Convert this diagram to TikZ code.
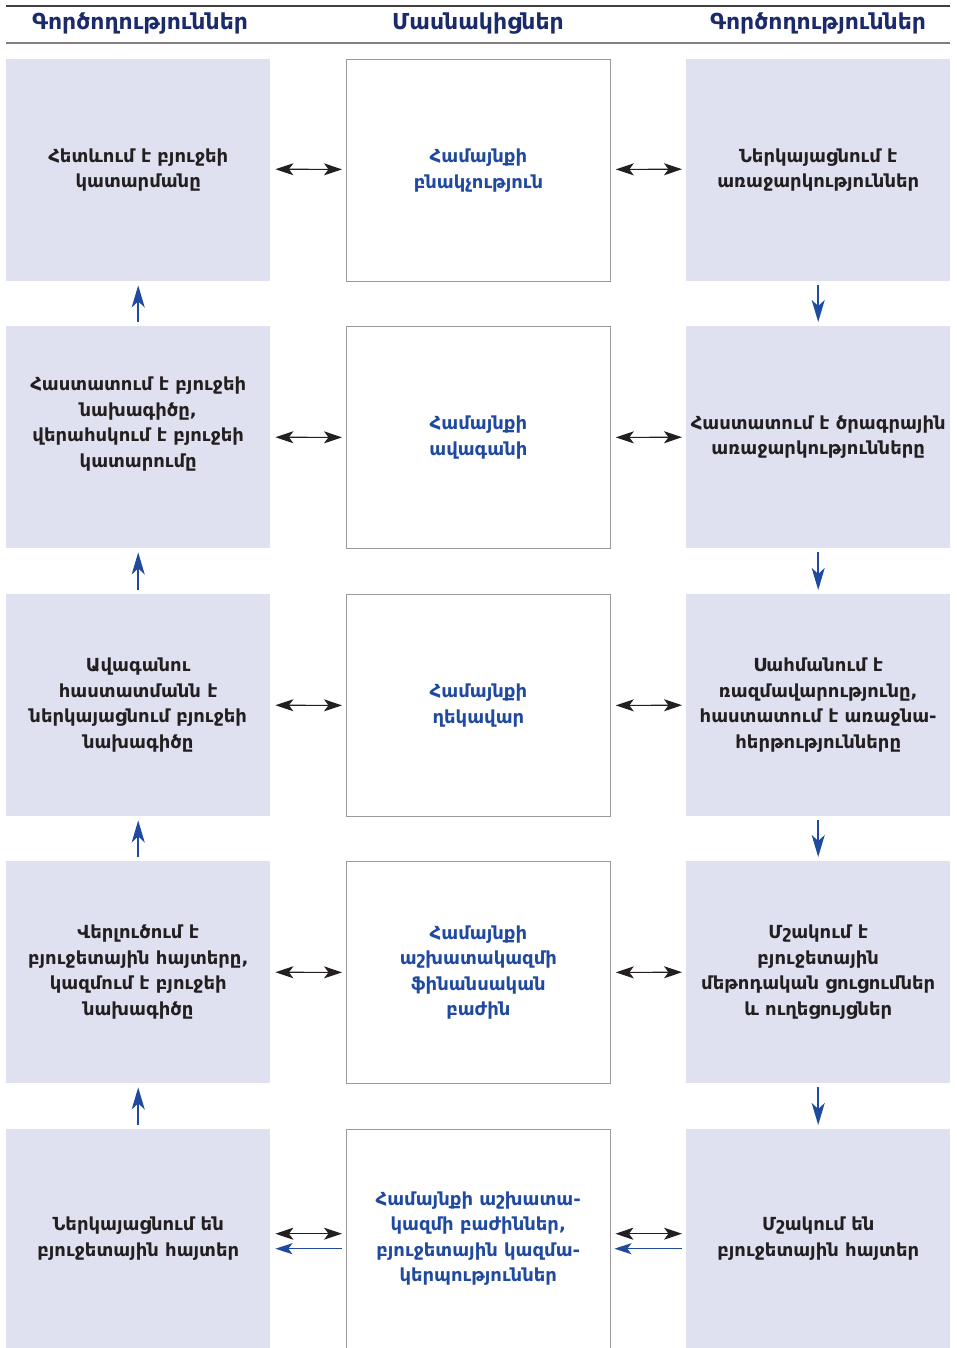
\documentclass[tikz,border=0pt]{standalone}
\usepackage{fontspec}
\setmainfont{DejaVu Sans}
\usetikzlibrary{arrows.meta}
\definecolor{lav}{HTML}{DFE1F0}
\definecolor{txtblk}{HTML}{231F20}
\definecolor{txtblue}{HTML}{1F4AA0}
\definecolor{navy}{HTML}{1B2A6B}
\definecolor{bordergrey}{HTML}{9A9A9A}
\definecolor{arrblue}{HTML}{1F4AA0}
\tikzset{
  sidebox/.style={fill=lav, draw=none, minimum width=264pt, minimum height=222pt, inner sep=0pt},
  midbox/.style={fill=white, draw=bordergrey, line width=0.8pt, minimum width=264pt, minimum height=222pt, inner sep=0pt},
  sidetxt/.style={align=center, text=txtblk, font=\fontsize{18}{25.5}\selectfont\bfseries},
  midtxt/.style={align=center, text=txtblue, font=\fontsize{18}{25.5}\selectfont\bfseries},
  headtxt/.style={text=navy, font=\fontsize{22}{24}\selectfont\bfseries},
  dblarr/.style={{Stealth[length=18pt,width=12pt,inset=4.5pt]}-{Stealth[length=18pt,width=12pt,inset=4.5pt]}, line width=1.1pt, draw=txtblk, shorten <=5pt, shorten >=4pt},
  bluearr/.style={-{Stealth[length=17pt,width=11pt,inset=4pt]}, line width=1.5pt, draw=arrblue},
  vertarr/.style={-{Stealth[length=22pt,width=13pt,inset=6pt]}, line width=1.6pt, draw=arrblue, shorten <=4pt, shorten >=4pt},
}
\begin{document}
\begin{tikzpicture}[x=1pt,y=-1pt]
\useasboundingbox (0,0) rectangle (956,1348);
% header
\coordinate (hl1) at (6,6);
\coordinate (hr1) at (950,6);
\coordinate (hl2) at (6,43);
\coordinate (hr2) at (950,43);
\draw[line width=1.4pt, draw=black!75] (hl1) -- (hr1);
\draw[line width=2.4pt, draw=black!50] (hl2) -- (hr2);
\node[headtxt] (h1) at (140,24) {Գործողություններ};
\node[headtxt] (h2) at (478,24) {Մասնակիցներ};
\node[headtxt] (h3) at (818,24) {Գործողություններ};
% boxes
\node[sidebox, anchor=north west] (l1) at (6,59) {};
\node[sidebox, anchor=north west] (l2) at (6,326) {};
\node[sidebox, anchor=north west] (l3) at (6,594) {};
\node[sidebox, anchor=north west] (l4) at (6,861) {};
\node[sidebox, anchor=north west, minimum height=219pt] (l5) at (6,1129) {};
\node[midbox, anchor=north west] (c1) at (346,59) {};
\node[midbox, anchor=north west] (c2) at (346,326) {};
\node[midbox, anchor=north west] (c3) at (346,594) {};
\node[midbox, anchor=north west] (c4) at (346,861) {};
\node[inner sep=0pt, minimum width=264pt, minimum height=219pt, anchor=north west] (c5) at (346,1129) {};
\draw[draw=bordergrey, line width=0.8pt] ([yshift=-2pt]c5.south west) -- (c5.north west) -- (c5.north east) -- ([yshift=-2pt]c5.south east);
\node[sidebox, anchor=north west] (r1) at (686,59) {};
\node[sidebox, anchor=north west] (r2) at (686,326) {};
\node[sidebox, anchor=north west] (r3) at (686,594) {};
\node[sidebox, anchor=north west] (r4) at (686,861) {};
\node[sidebox, anchor=north west, minimum height=219pt] (r5) at (686,1129) {};
% texts
\node[sidetxt] (tl1) at (l1) {Հետևում է բյուջեի\\կատարմանը};
\node[sidetxt, yshift=13pt] (tl2) at (l2) {Հաստատում է բյուջեի\\նախագիծը,\\վերահսկում է բյուջեի\\կատարումը};
\node[sidetxt] (tl3) at (l3) {Ավագանու\\հաստատմանն է\\ներկայացնում բյուջեի\\նախագիծը};
\node[sidetxt] (tl4) at (l4) {Վերլուծում է\\բյուջետային հայտերը,\\կազմում է բյուջեի\\նախագիծը};
\node[sidetxt] (tl5) at (l5) {Ներկայացնում են\\բյուջետային հայտեր};
\node[midtxt] (tc1) at (c1) {Համայնքի\\բնակչություն};
\node[midtxt] (tc2) at (c2) {Համայնքի\\ավագանի};
\node[midtxt] (tc3) at (c3) {Համայնքի\\ղեկավար};
\node[midtxt] (tc4) at (c4) {Համայնքի\\աշխատակազմի\\ֆինանսական\\բաժին};
\node[midtxt] (tc5) at (c5) {Համայնքի աշխատա-\\կազմի բաժիններ,\\բյուջետային կազմա-\\կերպություններ};
\node[sidetxt] (tr1) at (r1) {Ներկայացնում է\\առաջարկություններ};
\node[sidetxt] (tr2) at (r2) {Հաստատում է ծրագրային\\առաջարկությունները};
\node[sidetxt] (tr3) at (r3) {Սահմանում է\\ռազմավարությունը,\\հաստատում է առաջնա-\\հերթությունները};
\node[sidetxt] (tr4) at (r4) {Մշակում է\\բյուջետային\\մեթոդական ցուցումներ\\և ուղեցույցներ};
\node[sidetxt] (tr5) at (r5) {Մշակում են\\բյուջետային հայտեր};
% horizontal double arrows
\draw[dblarr] ([yshift=1pt]l1.east) -- ([yshift=1pt]c1.west);
\draw[dblarr] ([yshift=1pt]c1.east) -- ([yshift=1pt]r1.west);
\foreach \i in {2,3,4}{
  \draw[dblarr] (l\i.east) -- (c\i.west);
  \draw[dblarr] (c\i.east) -- (r\i.west);
}
\draw[dblarr] ([yshift=5pt]l5.east) -- ([yshift=5pt]c5.west);
\draw[dblarr] ([yshift=5pt]c5.east) -- ([yshift=5pt]r5.west);
\draw[bluearr, shorten <=4pt, shorten >=5pt] ([yshift=-10pt]c5.west) -- ([yshift=-10pt]l5.east);
\draw[bluearr, shorten <=4pt, shorten >=4pt] ([yshift=-10pt]r5.west) -- ([yshift=-10pt]c5.east);
% vertical arrows
\draw[vertarr] (l2.north) -- (l1.south);
\draw[vertarr] (l3.north) -- (l2.south);
\draw[vertarr] (l4.north) -- (l3.south);
\draw[vertarr] (l5.north) -- (l4.south);
\draw[vertarr] (r1.south) -- (r2.north);
\draw[vertarr] (r2.south) -- (r3.north);
\draw[vertarr] (r3.south) -- (r4.north);
\draw[vertarr] (r4.south) -- (r5.north);
\end{tikzpicture}
\end{document}
